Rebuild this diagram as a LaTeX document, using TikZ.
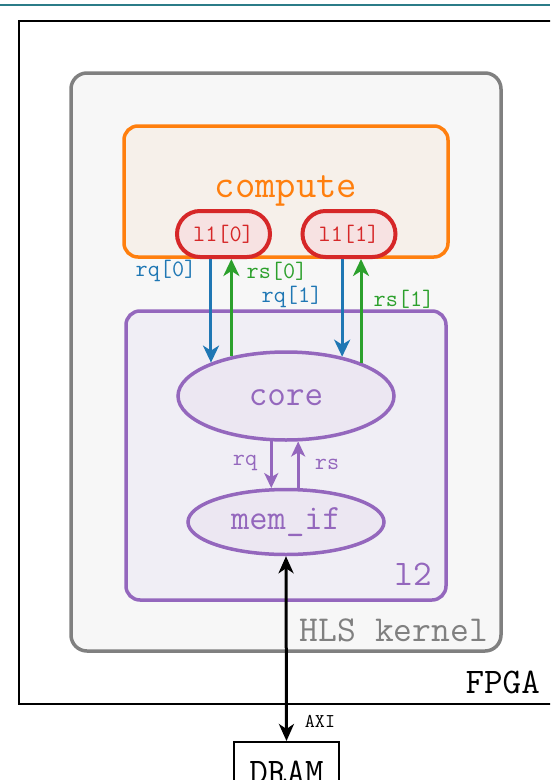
\documentclass[tikz,border=0pt]{standalone}
\usepackage{fontspec}
\usetikzlibrary{arrows.meta,shapes.geometric}

\definecolor{cblue}{HTML}{1F77B4}
\definecolor{cgreen}{HTML}{2CA02C}
\definecolor{corange}{HTML}{FF7F0E}
\definecolor{cred}{HTML}{D62728}
\definecolor{cpurple}{HTML}{9467BD}
\definecolor{cgray}{HTML}{808080}
\definecolor{cteal}{HTML}{2B7C88}
\definecolor{fillhls}{HTML}{F7F7F7}
\definecolor{fillcompute}{HTML}{F6F0EA}
\definecolor{filll1}{HTML}{F7E2E2}
\definecolor{filll2}{HTML}{F0EEF5}
\definecolor{fillcore}{HTML}{ECE7F2}

\newcommand{\tsize}[1]{\fontsize{#1}{#1}\selectfont\ttfamily}

\tikzset{
  hlsbox/.style={draw=cgray, fill=fillhls, line width=3.5pt, rounded corners=16pt,
    minimum width=430pt, minimum height=578pt, inner sep=0pt},
  computebox/.style={draw=corange, fill=fillcompute, line width=3.5pt, rounded corners=14pt,
    minimum width=324pt, minimum height=131pt, inner sep=0pt},
  l1box/.style={draw=cred, fill=filll1, line width=4pt, rounded corners=23pt,
    minimum width=93pt, minimum height=46pt, inner sep=0pt, text=cred, font=\tsize{23.5}},
  l2box/.style={draw=cpurple, fill=filll2, line width=3.5pt, rounded corners=14pt,
    minimum width=320pt, minimum height=289pt, inner sep=0pt},
  unitell/.style={ellipse, draw=cpurple, fill=fillcore, line width=3.5pt, inner sep=0pt,
    text=cpurple},
  plainbox/.style={draw=black, line width=2pt, inner sep=0pt},
  lbl/.style={inner sep=0pt, font=\tsize{#1}},
  bigtip/.style={-{Stealth[length=17pt,width=16pt,inset=5pt]}},
  smalltip/.style={-{Stealth[length=15pt,width=14pt,inset=4pt]}},
  axitip/.style={{Stealth[length=17pt,width=15pt,inset=5pt]}-{Stealth[length=17pt,width=15pt,inset=5pt]}},
}

\begin{document}
\begin{tikzpicture}[x=1pt,y=-1pt]
\useasboundingbox (0,0) rectangle (550,780);
\clip (0,0) rectangle (550,780);
\fill[white] (0,0) rectangle (550,780);

% rule along the top edge
\draw[cteal, line width=2.5pt] (0,5) -- (550,5);

% FPGA boundary, running off the right side
\draw[black, line width=2pt] (19,21) rectangle (600,704);
\node[lbl=36, anchor=east] (fpgalbl) at (540,682) {FPGA};

% HLS kernel
\node[hlsbox] (hls) at (286,362) {};
\node[lbl=36.5, text=cgray, anchor=east] (hlslbl) at (488,630) {HLS kernel};

% compute block with the two L1 caches
\node[computebox] (compute) at (286,191.5) {};
\node[lbl=39.5, text=corange] (computelbl) at (286,191) {compute};
\node[l1box] (l10) at (223.5,234) {l1[0]};
\node[l1box] (l11) at (349,234) {l1[1]};

% L2 block
\node[l2box] (l2) at (286,455.5) {};
\node[lbl=36, text=cpurple] (l2lbl) at (413,574) {l2};
\node[unitell, minimum width=216pt, minimum height=88pt] (core) at (286,396) {};
\node[lbl=36, text=cpurple] (corelbl) at (286,398) {core};
\node[unitell, minimum width=196pt, minimum height=65pt, font=\tsize{35.5}] (memif) at (286,522) {mem\_if};

% DRAM
\node[plainbox, minimum width=105pt, minimum height=60pt, font=\tsize{36}] (dram) at (286.5,772) {DRAM};

% L1 <-> core channels
\draw[cblue, line width=3pt, bigtip] (l10.south -| core.156) -- (core.156);
\draw[cgreen, line width=3pt, bigtip] (core.144.8) -- (l10.south -| core.144.8);
\draw[cblue, line width=3pt, bigtip] (l11.south -| core.35.2) -- (core.35.2);
\draw[cgreen, line width=3pt, bigtip] (core.24.5) -- (l11.south -| core.24.5);

\node[lbl=23.5, text=cblue] (rq0) at (166,271) {rq[0]};
\node[lbl=23.5, text=cgreen] (rs0) at (277,271) {rs[0]};
\node[lbl=23.5, text=cblue] (rq1) at (292,297) {rq[1]};
\node[lbl=23.5, text=cgreen] (rs1) at (404,299) {rs[1]};

% core <-> mem_if
\draw[cpurple, line width=3pt, smalltip] (core.252.2) -- (core.252.2 |- memif.113.5);
\draw[cpurple, line width=3pt, smalltip] (core.285.4 |- memif.69.6) -- (core.285.4);
\node[lbl=23.5, text=cpurple] (rqlbl) at (245,463) {rq};
\node[lbl=23.5, text=cpurple] (rslbl) at (327,464) {rs};

% AXI link to DRAM
\draw[black, line width=3pt, axitip] (memif.south) -- (dram.north);
\node[lbl=19.5] (axilbl) at (320,721) {AXI};
\end{tikzpicture}
\end{document}
